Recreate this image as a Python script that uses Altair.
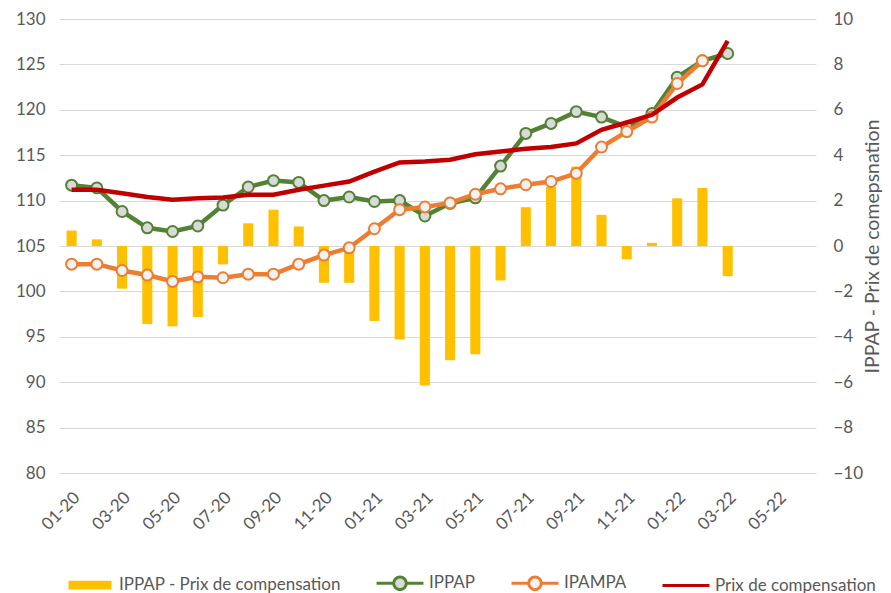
import altair as alt
import pandas as pd

mois = ["01-20", "02-20", "03-20", "04-20", "05-20", "06-20", "07-20", "08-20", "09-20", "10-20",
        "11-20", "12-20", "01-21", "02-21", "03-21", "04-21", "05-21", "06-21", "07-21", "08-21",
        "09-21", "10-21", "11-21", "12-21", "01-22", "02-22", "03-22", "04-22", "05-22", "06-22"]
mois_labels = ["01-20", "03-20", "05-20", "07-20", "09-20", "11-20", "01-21", "03-21",
               "05-21", "07-21", "09-21", "11-21", "01-22", "03-22", "05-22"]

ippap = [111.7, 111.4, 108.8, 107.0, 106.6, 107.2, 109.5, 111.5, 112.2, 112.0,
         110.0, 110.4, 109.9, 110.0, 108.3, 109.7, 110.3, 113.8, 117.4, 118.5,
         119.8, 119.2, 118.1, 119.6, 123.6, 125.4, 126.2]
ipampa = [103.0, 103.0, 102.3, 101.8, 101.1, 101.6, 101.5, 101.9, 101.9, 103.0,
          104.0, 104.8, 106.9, 109.0, 109.3, 109.75, 110.7, 111.3, 111.75, 112.1,
          113.0, 115.9, 117.6, 119.2, 122.9, 125.4, None]
prix = [111.2, 111.2, 110.8, 110.4, 110.1, 110.25, 110.35, 110.65, 110.65, 111.2,
        111.65, 112.1, 113.2, 114.2, 114.3, 114.5, 115.1, 115.4, 115.7, 115.9,
        116.3, 117.8, 118.6, 119.45, 121.35, 122.8, 127.6]
ecart = [0.68, 0.29, -1.88, -3.44, -3.54, -3.13, -0.81, 1.0, 1.6, 0.86,
         -1.62, -1.62, -3.3, -4.12, -6.15, -5.03, -4.77, -1.52, 1.71, 2.6,
         3.5, 1.37, -0.59, 0.14, 2.1, 2.56, -1.33]

series = ["IPPAP - Prix de compensation", "IPPAP", "IPAMPA", "Prix de compensation"]
serie_fill = ["#FFC000", "#D9D9D9", "#F2F2F2", "#C00000"]
serie_stroke = ["#FFC000", "#548235", "#ED7D31", "#C00000"]
serie_shape = [
    "M-0.85,-0.12H0.85V0.12H-0.85Z",
    "M-1,0H-0.27M0.27,0H1M0.27,0A0.27,0.27 0 1 1 -0.27,0A0.27,0.27 0 1 1 0.27,0",
    "M-1,0H-0.27M0.27,0H1M0.27,0A0.27,0.27 0 1 1 -0.27,0A0.27,0.27 0 1 1 0.27,0",
    "M-1,0H1",
]

n = len(ippap)
df = pd.DataFrame({"mois": mois[:n], "ippap": ippap, "ipampa": ipampa,
                   "prix": prix, "ecart": ecart})
leg_df = pd.DataFrame({"serie": series})

FONT = "Lato"
GREY = "#595959"
GRID = "#D9D9D9"

x = alt.X("mois:O", sort=None,
          scale=alt.Scale(domain=mois, paddingInner=0.6, paddingOuter=0.3),
          axis=alt.Axis(title=None, values=mois_labels, labelAngle=315, ticks=False,
                        domain=False, grid=False, labelPadding=16, labelFontSize=17,
                        labelFont=FONT, labelColor=GREY))

yleft_scale = alt.Scale(domain=[80, 130], nice=False, zero=False)
yleft_axis = alt.Axis(title=None, orient="left", values=list(range(80, 131, 5)),
                      ticks=False, domain=False, grid=True, gridColor=GRID,
                      labelPadding=14, labelFontSize=17, labelFont=FONT, labelColor=GREY)

bars = alt.Chart(df).mark_bar(color="#FFC000").encode(
    x=x,
    y=alt.Y("ecart:Q", scale=alt.Scale(domain=[-10, 10], nice=False),
            axis=alt.Axis(title="IPPAP - Prix de comepsnation", orient="right",
                          values=list(range(-10, 11, 2)), ticks=False, domain=False,
                          grid=False, labelPadding=17, labelFontSize=17, labelFont=FONT,
                          labelColor=GREY, titleFont=FONT, titleFontSize=19.5,
                          titleFontWeight="normal", titleColor=GREY, titleAngle=270,
                          titleBaseline="top", titleX=47, titleY=227)),
)

base = alt.Chart(df)
green_line = base.mark_line(color="#548235", strokeWidth=4.5).encode(
    x=x, y=alt.Y("ippap:Q", scale=yleft_scale, axis=yleft_axis))
green_pts = base.mark_point(shape="circle", filled=True, fill="#D9D9D9", stroke="#548235",
                            strokeWidth=2, size=120, opacity=1).encode(
    x=x, y=alt.Y("ippap:Q", scale=yleft_scale, axis=yleft_axis))
orange_line = base.mark_line(color="#ED7D31", strokeWidth=4.5).encode(
    x=x, y=alt.Y("ipampa:Q", scale=yleft_scale, axis=yleft_axis))
orange_pts = base.mark_point(shape="circle", filled=True, fill="#F2F2F2", stroke="#ED7D31",
                             strokeWidth=2, size=120, opacity=1).encode(
    x=x, y=alt.Y("ipampa:Q", scale=yleft_scale, axis=yleft_axis))
red_line = base.mark_line(color="#C00000", strokeWidth=4.5).encode(
    x=x, y=alt.Y("prix:Q", scale=yleft_scale, axis=yleft_axis))

lines = alt.layer(green_line, green_pts, orange_line, orange_pts, red_line)

leg = alt.Legend(title=None, orient="none", legendX=6, legendY=539, direction="horizontal",
                 columns=4, columnPadding=29, labelOffset=4, symbolSize=2209,
                 symbolStrokeWidth=3, labelFont=FONT, labelFontSize=17, labelColor=GREY,
                 labelLimit=400, symbolOpacity=1)
legend_layer = alt.Chart(leg_df).transform_filter("false").mark_point(
    filled=True, opacity=1, strokeWidth=3).encode(
    fill=alt.Fill("serie:N", scale=alt.Scale(domain=series, range=serie_fill), legend=leg),
    stroke=alt.Stroke("serie:N", scale=alt.Scale(domain=series, range=serie_stroke), legend=leg),
    shape=alt.Shape("serie:N", scale=alt.Scale(domain=series, range=serie_shape), legend=leg),
)

chart = alt.layer(bars, lines, legend_layer).resolve_scale(y="independent").properties(
    width=757, height=454,
    autosize=alt.AutoSizeParams(type="none"),
    padding={"left": 51, "top": 11, "right": 67, "bottom": 120},
).configure_view(stroke=None)

chart.save("out.html", embed_options={"renderer": "svg", "actions": False})
